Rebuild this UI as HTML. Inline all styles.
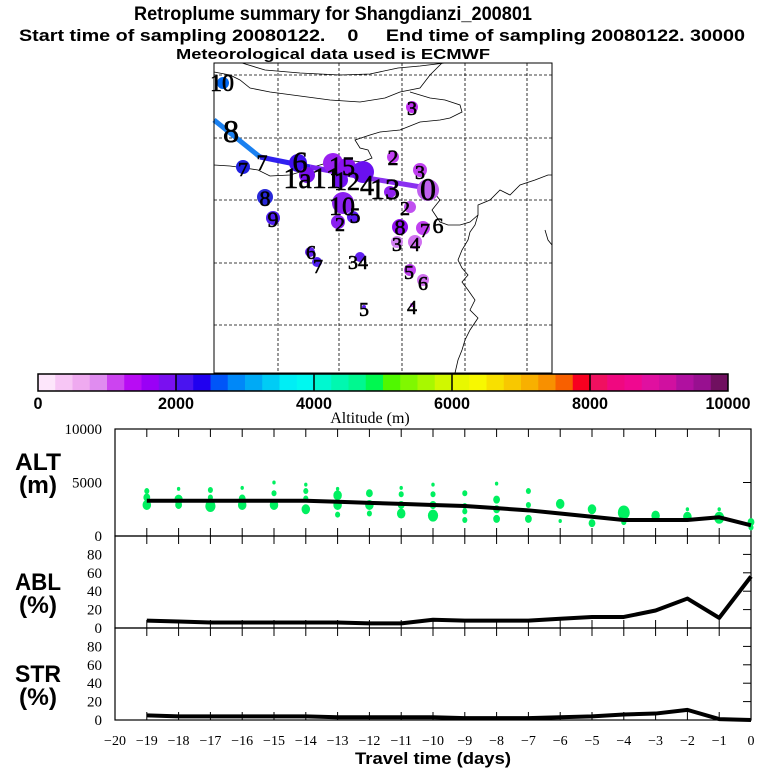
<!DOCTYPE html>
<html><head><meta charset="utf-8"><style>
html,body{margin:0;padding:0;background:#fff}
svg{display:block}
text{font-family:"Liberation Sans",sans-serif}
.serif{font-family:"Liberation Serif",serif}
</style></head><body>
<svg id="root" width="768" height="768" viewBox="0 0 768 768" xmlns="http://www.w3.org/2000/svg">
<text x="333" y="20" text-anchor="middle" font-weight="bold" font-size="19" textLength="398" lengthAdjust="spacingAndGlyphs">Retroplume summary for Shangdianzi_200801</text>
<text x="382" y="41" text-anchor="middle" font-weight="bold" font-size="17" textLength="726" lengthAdjust="spacingAndGlyphs" xml:space="preserve">Start time of sampling 20080122.    0     End time of sampling 20080122. 30000</text>
<text x="333" y="59" text-anchor="middle" font-weight="bold" font-size="15" textLength="314" lengthAdjust="spacingAndGlyphs">Meteorological data used is ECMWF</text>
<g id="map"></g>
<g id="cbar"></g>
<g id="panels"></g>
</svg>
<script>
// ---- data ----
const days = [-19,-18,-17,-16,-15,-14,-13,-12,-11,-10,-9,-8,-7,-6,-5,-4,-3,-2,-1,0];
const altMean = [3300,3300,3300,3300,3300,3300,3200,3100,3000,2900,2800,2600,2400,2100,1800,1500,1500,1500,1750,1000];
const ablPct = [8,7,6,6,6,6,6,5,5,9,8,8,8,10,12,12,19,32,11,56];
const strPct = [5,4,4,4,4,4,3,3,3,3,2,2,2,3,4,6,7,11,1,0];
const xTicks = [-20,-19,-18,-17,-16,-15,-14,-13,-12,-11,-10,-9,-8,-7,-6,-5,-4,-3,-2,-1,0];
const altTicks = [0,5000,10000];
const pctTicks = [0,20,40,60,80];
const cbarTicks = [0,2000,4000,6000,8000,10000];
const clusterDay = [-19,-19,-19,-18,-18,-18,-17,-17,-17,-16,-16,-16,-15,-15,-15,-14,-14,-14,-14,-13,-13,-13,-13,-12,-12,-12,-11,-11,-11,-11,-10,-10,-10,-10,-9,-9,-9,-9,-8,-8,-8,-8,-7,-7,-7,-6,-6,-5,-5,-4,-4,-3,-2,-2,-1,-1,0,0];
const clusterAlt = [4200,3600,2900,4400,3400,2900,4300,3600,2800,4500,3500,2900,5000,4000,2900,4800,4200,3500,2500,4400,3800,2900,2000,4000,2900,2100,4500,3900,2900,2100,4800,3900,2900,1900,4000,2800,2300,1500,4900,3400,2500,1600,4200,2900,1600,3000,1400,2500,1200,2200,1300,1900,2500,1800,2500,1700,1300,800];
const clusterSize = [3,4,5,2,5,4,3,3,6,2,4,5,2,3,5,2,3,3,5,2,5,5,3,4,5,3,2,3,4,5,2,3,4,6,3,3,3,3,2,4,4,4,3,3,4,5,2,5,4,7,3,5,2,5,2,6,4,3];
const mkX = [223,243,265,273,298,307,333,347,363,340,343,353,338,390,428,412,393,420,410,400,423,397,415,310,317,360,410,423,364,412];
const mkY = [83,167,197,218,163,175,163,167,172,180,203,217,222,192,190,107,157,170,207,227,228,242,242,252,262,257,270,280,307,305];
const mkR = [6,7,8,7,9,8,10,9,11,8,11,6,7,6,11,6,6,7,6,8,7,6,7,5,5,5,6,6,2,2];
const mkC = ["#0066f0","#2020e0","#2828d8","#5020f0","#4010f0","#7a10f0","#9a20f0","#8a10f0","#6a10f0","#7010f0","#8a20f0","#5a18f0","#8a20f0","#9020f0","#c060f0","#c030f0","#c040f0","#c040f0","#c050f0","#9010f0","#c040f0","#d080f0","#d070f0","#6020f0","#5020f0","#6020f0","#c040f0","#d070f0","#6020f0","#c040f0"];
const lbT = ["10","8","7","7","8","9","6","1a11","15","12","4","13","0","3","2","3","10","5","2","2","8","7","6","3","4","6","7","34","5","6","5","4"];
const lbX = [222,231,262,243,265,273,300,312,342,347,367,385,428,412,393,420,342,355,340,405,400,425,438,397,415,311,318,358,409,423,364,412];
const lbY = [91,142,170,176,206,227,172,188,175,190,195,199,200,115,165,179,215,223,231,215,235,237,233,251,251,259,273,269,279,290,316,314];
const lbS = [24,32,22,20,22,22,30,30,26,26,28,30,32,20,22,20,26,22,20,20,22,20,22,20,20,20,20,20,20,20,20,20];
const trajX = [214,260,310,367,427];
const trajY = [120,157,167,178,188];
const trajC = ["#1a80f0","#3020f0","#7a20f0","#8a30f0"];
const cbColors = ["#fde6fb","#f7c6f5","#efaaf0","#e08cf0","#cc44f0","#b80cf4","#9a00f6","#7a10f0","#4a14f0","#2000f0","#0055f8","#0088f8","#00aaf5","#00ccf5","#00eef5","#00f8f0","#00f8d0","#00f8b0","#00f890","#00f850","#50f800","#80f800","#a8f800","#d0f800","#e8f800","#f8f800","#f8e000","#f8c800","#f8b000","#f89000","#f86000","#f80020","#f01060","#f00880","#f00890","#e010a0","#d010a0","#b010a0","#981090","#701060"];

const NS="http://www.w3.org/2000/svg";
function mk(tag, attrs, parent){const e=document.createElementNS(NS,tag);for(const k in attrs)e.setAttribute(k,attrs[k]);parent.appendChild(e);return e;}

const map=document.getElementById('map');
const mL=214,mR=552,mT=63,mB=373;
const coast=[
"M242,63 L265,70 L300,73 L340,75 L370,74 L398,68 L420,66 L445,63",
"M442,63 L430,75 L420,88 L400,92 L385,98 L360,102 L330,100 L300,96 L270,92 L250,88 L240,80 L230,75 L214,72",
"M410,92 L430,98 L445,100 L460,105 L462,112 L450,118 L440,120 L420,122 L400,130 L380,132 L370,135 L355,140 L360,148 L368,150 L372,158 L362,162 L345,160 L330,162 L310,168 L300,172 L290,175 L270,176 L258,170 L245,168 L230,166 L214,165",
"M430,188 L440,200 L432,210 L440,222 L448,225 L460,225 L470,222 L478,215 L478,205 L490,200 L500,190 L510,195 L520,185 L535,180 L548,175 L552,175",
"M478,215 L475,225 L470,232 L468,240 L462,250 L458,260 L462,268 L468,275 L462,282 L468,290 L475,300 L470,310 L478,318 L470,330 L465,340 L462,350 L458,360 L455,373",
"M545,230 L548,240 L552,245"
];
coast.forEach((d,i)=>{const p=mk('path',{d:d,fill:'none',stroke:'#000','stroke-width':0.8},map);

});
[278,339,402,465,527].forEach(x=>{const l=mk('line',{x1:x,y1:mT,x2:x,y2:mB,stroke:'#000','stroke-width':0.8,'stroke-dasharray':'3,2'},map);

});
[75,138,200,263,325].forEach(y=>{const l=mk('line',{x1:mL,y1:y,x2:mR,y2:y,stroke:'#000','stroke-width':0.8,'stroke-dasharray':'3,2'},map);

});
for(let i=0;i<trajX.length-1;i++){const l=mk('line',{x1:trajX[i],y1:trajY[i],x2:trajX[i+1],y2:trajY[i+1],stroke:trajC[i],'stroke-width':5},map);

}
for(let i=0;i<mkX.length;i++){const c=mk('circle',{cx:mkX[i],cy:mkY[i],r:mkR[i],fill:mkC[i]},map);

}
for(let i=0;i<lbT.length;i++){const t=mk('text',{x:lbX[i],y:lbY[i],'text-anchor':'middle','font-size':lbS[i],class:'serif',fill:'#000',stroke:'#000','stroke-width':0.6},map);t.textContent=lbT[i];

}
const mb=mk('rect',{x:mL,y:mT,width:mR-mL,height:mB-mT,fill:'none',stroke:'#000','stroke-width':1},map);



const cb=document.getElementById('cbar');
const cbL=38,cbR=728,cbT=374,cbB=391;
const cw=(cbR-cbL)/cbColors.length;
cbColors.forEach((c,i)=>{const r=mk('rect',{x:cbL+i*cw,y:cbT,width:cw+0.5,height:cbB-cbT,fill:c},cb);

});
const cbf=mk('rect',{x:cbL,y:cbT,width:cbR-cbL,height:cbB-cbT,fill:'none',stroke:'#000','stroke-width':1.5},cb);


cbarTicks.forEach(v=>{const x=cbL+(v/10000)*(cbR-cbL);
if(v>0&&v<10000){const l=mk('line',{x1:x,y1:cbT,x2:x,y2:cbB,stroke:'#000','stroke-width':1.5},cb);

}
const t=mk('text',{x:x,y:409,'text-anchor':'middle','font-size':17,'font-weight':'bold',textLength:String(v).length*9,lengthAdjust:'spacingAndGlyphs'},cb);t.textContent=v;

});
const at=mk('text',{x:370,y:423,'text-anchor':'middle','font-size':16,class:'serif'},cb);at.textContent='Altitude (m)';



const pn=document.getElementById('panels');
const pL=115,pR=751;
function xs(d){return pL+(d+20)/20*(pR-pL);}
const panels=[{top:429,bot:536,max:10000,ticks:altTicks,name:'alt',l1:'ALT',l2:'(m)',ly:470},
{top:536,bot:628,max:100,ticks:pctTicks,name:'abl',l1:'ABL',l2:'(%)',ly:590},
{top:628,bot:720,max:100,ticks:pctTicks,name:'str',l1:'STR',l2:'(%)',ly:682}];
panels.forEach((p,pi)=>{
const ys=v=>p.bot-v/p.max*(p.bot-p.top);
const g=mk('g',{},pn);


const fr=mk('rect',{x:pL,y:p.top,width:pR-pL,height:p.bot-p.top,fill:'none',stroke:'#000','stroke-width':1.2},g);


xTicks.forEach(d=>{const x=xs(d);
const a=mk('line',{x1:x,y1:p.top,x2:x,y2:p.top+8,stroke:'#000','stroke-width':1},g);


const b=mk('line',{x1:x,y1:p.bot-8,x2:x,y2:p.bot,stroke:'#000','stroke-width':1},g);

});
p.ticks.forEach(v=>{const y=ys(v);
const a=mk('line',{x1:pR-8,y1:y,x2:pR,y2:y,stroke:'#000','stroke-width':1},g);


const t=mk('text',{x:pL-13,y:y+5,'text-anchor':'end','font-size':15,class:'serif'},g);t.textContent=v;

});
const t1=mk('text',{x:38,y:p.ly,'text-anchor':'middle','font-size':24,'font-weight':'bold',textLength:46,lengthAdjust:'spacingAndGlyphs'},g);t1.textContent=p.l1;


const t2=mk('text',{x:38,y:p.ly+23,'text-anchor':'middle','font-size':24,'font-weight':'bold',textLength:38,lengthAdjust:'spacingAndGlyphs'},g);t2.textContent=p.l2;


if(pi===0){
for(let i=0;i<clusterDay.length;i++){const c=mk('ellipse',{cx:xs(clusterDay[i]),cy:ys(clusterAlt[i]),rx:clusterSize[i]*0.85,ry:clusterSize[i],fill:'#00f060'},g);

}
}
const vals=pi===0?altMean:pi===1?ablPct:strPct;
const pts=days.map((d,i)=>xs(d)+','+ys(vals[i])).join(' ');
const pl=mk('polyline',{points:pts,fill:'none',stroke:'#000','stroke-width':4,'stroke-linejoin':'round'},g);


});
xTicks.forEach(d=>{const t=mk('text',{x:xs(d),y:745,'text-anchor':'middle','font-size':14,class:'serif'},pn);t.textContent=d<0?'\u2212'+(-d):d;

});
const xt=mk('text',{x:433,y:764,'text-anchor':'middle','font-size':17,'font-weight':'bold',textLength:156,lengthAdjust:'spacingAndGlyphs'},pn);xt.textContent='Travel time (days)';


</script>
</body></html>
